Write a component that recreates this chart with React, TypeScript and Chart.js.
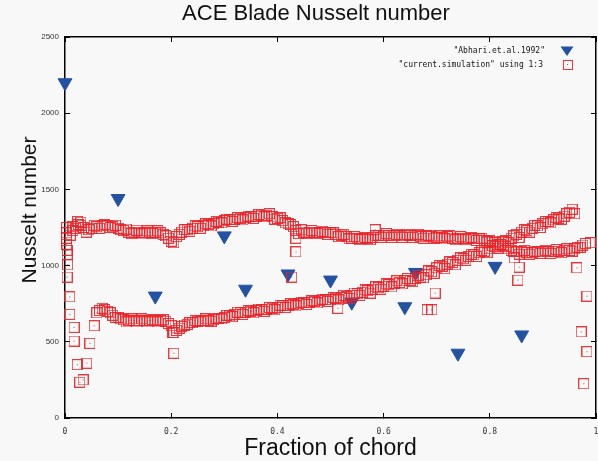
import React, { useEffect, useRef } from 'react';
import { Chart, registerables } from 'chart.js';

Chart.register(...registerables);

const TITLE = 'ACE Blade Nusselt number';
const X_TITLE = 'Fraction of chord';
const Y_TITLE = 'Nusselt number';
const EXP_LABEL = '"Abhari.et.al.1992"';
const SIM_LABEL = '"current.simulation" using 1:3';

const X_MIN = 0;
const X_MAX = 1;
const X_STEP = 0.2;
const Y_MIN = 0;
const Y_MAX = 2500;
const Y_STEP = 500;

// Experimental data (blue triangles)
const abhariChord = [0, 0.1, 0.17, 0.3, 0.34, 0.42, 0.5, 0.54, 0.64, 0.66, 0.74, 0.81, 0.86];
const abhariNu = [2200, 1440, 800, 1195, 845, 945, 905, 760, 730, 955, 425, 995, 545];

// Simulation, upper branch
const suctionChord = [
  0.01, 0.02, 0.03, 0.04, 0.05, 0.06, 0.07, 0.08, 0.09, 0.1,
  0.11, 0.12, 0.13, 0.14, 0.15, 0.16, 0.17, 0.18, 0.19, 0.2,
  0.21, 0.22, 0.23, 0.24, 0.25, 0.26, 0.27, 0.28, 0.29, 0.3,
  0.31, 0.32, 0.33, 0.34, 0.35, 0.36, 0.37, 0.38, 0.39, 0.4,
  0.41, 0.42, 0.43, 0.44, 0.45, 0.46, 0.47, 0.48, 0.49, 0.5,
  0.51, 0.52, 0.53, 0.54, 0.55, 0.56, 0.57, 0.58, 0.59, 0.6,
  0.61, 0.62, 0.63, 0.64, 0.65, 0.66, 0.67, 0.68, 0.69, 0.7,
  0.71, 0.72, 0.73, 0.74, 0.75, 0.76, 0.77, 0.78, 0.79, 0.8,
  0.81, 0.82, 0.83, 0.84, 0.85, 0.86, 0.87, 0.88, 0.89, 0.9,
  0.91, 0.92, 0.93, 0.94, 0.95, 0.96, 0.97, 0.98,
];
const suctionNu = [
  1200, 1245, 1285, 1220, 1245, 1255, 1260, 1260, 1255, 1245,
  1230, 1220, 1220, 1220, 1215, 1220, 1220, 1215, 1195, 1160,
  1190, 1220, 1235, 1245, 1255, 1260, 1270, 1275, 1285, 1295,
  1300, 1305, 1310, 1315, 1320, 1325, 1330, 1330, 1320, 1310,
  1295, 1275, 1255, 1210, 1220, 1220, 1220, 1215, 1220, 1215,
  1205, 1200, 1190, 1180, 1180, 1175, 1180, 1185, 1200, 1195,
  1200, 1195, 1195, 1195, 1200, 1195, 1190, 1195, 1190, 1185,
  1185, 1190, 1180, 1180, 1180, 1180, 1175, 1175, 1165, 1165,
  1150, 1140, 1125, 1100, 1090, 1090, 1085, 1085, 1090, 1090,
  1090, 1095, 1095, 1100, 1100, 1110, 1120, 1145,
];
// Upper branch, in-between stations
const suctionChord2 = [
  0.015, 0.025, 0.035, 0.045, 0.055, 0.065, 0.075, 0.085, 0.095, 0.105,
  0.115, 0.125, 0.135, 0.145, 0.155, 0.165, 0.175, 0.185, 0.195, 0.205,
  0.215, 0.225, 0.235, 0.245, 0.255, 0.265, 0.275, 0.285, 0.295, 0.305,
  0.315, 0.325, 0.335, 0.345, 0.355, 0.365, 0.375, 0.385, 0.395, 0.405,
  0.415, 0.425, 0.435, 0.445, 0.455, 0.465, 0.475, 0.485, 0.495, 0.505,
  0.515, 0.525, 0.535, 0.545, 0.555, 0.565, 0.575, 0.585, 0.595, 0.605,
  0.615, 0.625, 0.635, 0.645, 0.655, 0.665, 0.675, 0.685, 0.695, 0.705,
  0.715, 0.725, 0.735, 0.745, 0.755, 0.765, 0.775, 0.785, 0.795, 0.805,
  0.815, 0.825, 0.835, 0.845, 0.855, 0.865, 0.875, 0.885, 0.895, 0.905,
  0.915, 0.925, 0.935, 0.945, 0.955, 0.965, 0.975,
];
const suctionNu2 = [
  1230, 1270, 1250, 1235, 1265, 1245, 1270, 1250, 1265, 1235,
  1240, 1210, 1232, 1208, 1228, 1210, 1228, 1205, 1180, 1150,
  1205, 1235, 1225, 1260, 1245, 1275, 1260, 1290, 1280, 1305,
  1290, 1315, 1300, 1325, 1310, 1335, 1320, 1340, 1305, 1315,
  1280, 1270, 1230, 1235, 1210, 1230, 1210, 1225, 1205, 1215,
  1190, 1205, 1175, 1190, 1170, 1185, 1170, 1195, 1185, 1210,
  1185, 1205, 1185, 1205, 1185, 1205, 1180, 1200, 1180, 1195,
  1175, 1195, 1170, 1190, 1170, 1185, 1165, 1180, 1155, 1160,
  1140, 1135, 1110, 1095, 1075, 1100, 1075, 1095, 1080, 1100,
  1080, 1105, 1085, 1110, 1095, 1120, 1135,
];

// Simulation, lower branch
const pressureChord = [
  0.06, 0.07, 0.08, 0.09, 0.1,
  0.11, 0.12, 0.13, 0.14, 0.15, 0.16, 0.17, 0.18, 0.19, 0.2,
  0.21, 0.22, 0.23, 0.24, 0.25, 0.26, 0.27, 0.28, 0.29, 0.3,
  0.31, 0.32, 0.33, 0.34, 0.35, 0.36, 0.37, 0.38, 0.39, 0.4,
  0.41, 0.42, 0.43, 0.44, 0.45, 0.46, 0.47, 0.48, 0.49, 0.5,
  0.51, 0.52, 0.53, 0.54, 0.55, 0.56, 0.57, 0.58, 0.59, 0.6,
  0.61, 0.62, 0.63, 0.64, 0.65, 0.66, 0.67, 0.68, 0.69, 0.7,
  0.71, 0.72, 0.73, 0.74, 0.75, 0.76, 0.77, 0.78, 0.79, 0.8,
  0.81, 0.82, 0.83, 0.84, 0.85, 0.86, 0.87, 0.88, 0.89, 0.9,
  0.91, 0.92, 0.93, 0.94, 0.95, 0.96,
];
const pressureNu = [
  690, 720, 700, 675, 660,
  645, 640, 640, 640, 640, 640, 640, 640, 635, 605,
  575, 600, 615, 625, 635, 640, 640, 645, 655, 660,
  670, 680, 690, 695, 700, 705, 710, 715, 720, 725,
  735, 740, 745, 750, 755, 760, 765, 770, 775, 775,
  785, 790, 795, 805, 815, 825, 835, 845, 855, 865,
  875, 885, 890, 900, 905, 915, 925, 940, 960, 985,
  995, 1010, 1020, 1035, 1045, 1060, 1070, 1085, 1095, 1110,
  1125, 1140, 1165, 1180, 1205, 1220, 1230, 1245, 1260, 1275,
  1290, 1300, 1310, 1325, 1350, 1340,
];
// Lower branch, in-between stations
const pressureChord2 = [
  0.065, 0.075, 0.085, 0.095, 0.105, 0.115, 0.125, 0.135, 0.145, 0.155,
  0.165, 0.175, 0.185, 0.195, 0.205, 0.215, 0.225, 0.235, 0.245, 0.255,
  0.265, 0.275, 0.285, 0.295, 0.305, 0.315, 0.325, 0.335, 0.345, 0.355,
  0.365, 0.375, 0.385, 0.395, 0.405, 0.415, 0.425, 0.435, 0.445, 0.455,
  0.465, 0.475, 0.485, 0.495, 0.505, 0.515, 0.525, 0.535, 0.545, 0.555,
  0.565, 0.575, 0.585, 0.595, 0.605, 0.615, 0.625, 0.635, 0.645, 0.655,
  0.665, 0.675, 0.685, 0.695, 0.705, 0.715, 0.725, 0.735, 0.745, 0.755,
  0.765, 0.775, 0.785, 0.795, 0.805, 0.815, 0.825, 0.835, 0.845, 0.855,
  0.865, 0.875, 0.885, 0.895, 0.905, 0.915, 0.925, 0.935, 0.945, 0.955,
];
const pressureNu2 = [
  705, 710, 690, 660, 650, 630, 650, 630, 650, 630,
  645, 630, 645, 620, 560, 590, 610, 625, 640, 630,
  650, 635, 655, 650, 675, 665, 695, 680, 705, 690,
  715, 700, 725, 710, 740, 725, 750, 735, 760, 745,
  770, 755, 780, 765, 790, 775, 805, 785, 820, 805,
  840, 820, 860, 845, 880, 860, 900, 880, 915, 895,
  935, 920, 965, 950, 1000, 980, 1025, 1005, 1050, 1035,
  1075, 1060, 1100, 1085, 1130, 1115, 1155, 1150, 1195, 1185,
  1235, 1220, 1265, 1250, 1290, 1280, 1315, 1305, 1340, 1370,
];

// Simulation, isolated points (leading / trailing edge and elsewhere)
const scatterChord = [
  0.003, 0.003, 0.003, 0.003, 0.004, 0.004, 0.005, 0.004,
  0.009, 0.009, 0.017, 0.017, 0.023, 0.028, 0.034, 0.041, 0.047, 0.055,
  0.015, 0.024, 0.03,
  0.205, 0.203,
  0.427, 0.435, 0.435,
  0.514, 0.584,
  0.682, 0.691, 0.697,
  0.846, 0.853, 0.855,
  0.964, 0.972, 0.977, 0.983, 0.983, 0.989,
];
const scatterNu = [
  1250, 1215, 1180, 1140, 1100, 1070, 1005, 925,
  795, 680, 595, 505, 350, 235, 250, 360, 490, 605,
  1255, 1290, 1265,
  425, 560,
  925, 1180, 1090,
  720, 1235,
  710, 710, 820,
  1050, 905, 990,
  985, 565, 225, 800, 435, 1150,
];

const BLUE = '#2452a3';
const RED = 'rgba(232, 34, 40, 0.9)';
const SANS = '"Liberation Sans", Arial, Helvetica, sans-serif';
const MONO = '"DejaVu Sans Mono", "Liberation Mono", monospace';

function pairs(xs: number[], ys: number[]) {
  return xs.map((x, i) => ({ x, y: ys[i] }));
}

function makeSquare(): HTMLCanvasElement {
  const c = document.createElement('canvas');
  c.width = 11;
  c.height = 11;
  const g = c.getContext('2d')!;
  g.strokeStyle = RED;
  g.lineWidth = 1;
  g.strokeRect(0.5, 0.5, 10, 10);
  g.fillStyle = RED;
  g.fillRect(5, 5, 1, 1);
  return c;
}

const overlayPlugin = {
  id: 'gnuplotOverlay',
  afterDraw(chart: any) {
    const ctx = chart.ctx as CanvasRenderingContext2D;
    const ds = chart.data.datasets;
    ctx.save();
    // Y axis title
    ctx.translate(30, 210);
    ctx.rotate(-Math.PI / 2);
    ctx.font = `21px ${SANS}`;
    ctx.fillStyle = '#111';
    ctx.textAlign = 'center';
    ctx.textBaseline = 'middle';
    ctx.fillText(Y_TITLE, 0, 0);
    ctx.restore();

    // Legend (gnuplot style: text then symbol, top right)
    ctx.save();
    ctx.font = `8px ${MONO}`;
    ctx.fillStyle = '#111';
    ctx.textAlign = 'right';
    ctx.textBaseline = 'middle';
    ctx.fillText(ds[0].label, 545, 51);
    ctx.fillText(ds[1].label, 543, 65);
    ctx.fillStyle = BLUE;
    ctx.beginPath();
    ctx.moveTo(560.5, 46.5);
    ctx.lineTo(573.5, 46.5);
    ctx.lineTo(567, 56);
    ctx.closePath();
    ctx.fill();
    ctx.strokeStyle = RED;
    ctx.lineWidth = 1;
    ctx.strokeRect(563.5, 60.5, 9, 9);
    ctx.fillStyle = RED;
    ctx.fillRect(567, 64, 1, 1);
    ctx.restore();
  },
};

const fmtX = (v: number | string) => {
  const n = Number(v);
  if (Math.abs(n) < 1e-9) return '0';
  if (Math.abs(n - 1) < 1e-9) return '1';
  return n.toFixed(1);
};
const fmtY = (v: number | string) => String(Math.round(Number(v)));

export default function App() {
  const ref = useRef<HTMLCanvasElement>(null);

  useEffect(() => {
    if (!ref.current) return;
    const square = makeSquare();
    const tickGrid = { drawOnChartArea: false, tickLength: -5, color: '#000', tickColor: '#000', tickWidth: 1 };
    const border = { display: true, color: '#000', width: 1.5 };
    const noPadX = (h: number) => (s: any) => { s.height = h; s.paddingLeft = 0; s.paddingRight = 0; };
    const noPadY = (w: number) => (s: any) => { s.width = w; s.paddingTop = 0; s.paddingBottom = 0; };
    const chart = new Chart(ref.current, {
      type: 'scatter',
      data: {
        datasets: [
          {
            label: EXP_LABEL,
            data: pairs(abhariChord, abhariNu),
            pointStyle: 'triangle',
            rotation: 180,
            pointRadius: 8,
            pointHoverRadius: 8,
            backgroundColor: BLUE,
            borderColor: BLUE,
            borderWidth: 1,
            order: 2,
            clip: false,
          } as any,
          {
            label: SIM_LABEL,
            data: [
              ...pairs(suctionChord, suctionNu),
              ...pairs(suctionChord2, suctionNu2),
              ...pairs(pressureChord, pressureNu),
              ...pairs(pressureChord2, pressureNu2),
              ...pairs(scatterChord, scatterNu),
            ],
            pointStyle: square,
            pointRadius: 6,
            pointHoverRadius: 6,
            backgroundColor: 'rgba(0,0,0,0)',
            borderColor: RED,
            order: 1,
            clip: false,
          } as any,
        ],
      },
      options: {
        responsive: false,
        animation: false,
        devicePixelRatio: 1,
        events: [],
        layout: { padding: { left: 36, right: 2, top: 0, bottom: 0 }, autoPadding: false },
        plugins: {
          legend: { display: false },
          tooltip: { enabled: false },
          title: {
            display: true,
            text: TITLE,
            color: '#111',
            font: { family: SANS, size: 22, weight: 'normal', lineHeight: 1 },
            padding: { top: 3, bottom: 12 },
          },
        },
        scales: {
          x: {
            type: 'linear',
            position: 'bottom',
            min: X_MIN,
            max: X_MAX,
            ticks: { stepSize: X_STEP, padding: 14, color: '#333', font: { family: MONO, size: 8 }, callback: fmtX, maxRotation: 0 },
            grid: tickGrid,
            border,
            title: {
              display: true,
              text: X_TITLE,
              color: '#111',
              font: { family: SANS, size: 23, lineHeight: 1 },
              padding: { top: 0, bottom: 1 },
            },
            afterFit: noPadX(43),
          },
          x2: {
            type: 'linear',
            position: 'top',
            min: X_MIN,
            max: X_MAX,
            ticks: { stepSize: X_STEP, display: false },
            grid: tickGrid,
            border,
            afterFit: noPadX(0),
          },
          y: {
            type: 'linear',
            position: 'left',
            min: Y_MIN,
            max: Y_MAX,
            ticks: { stepSize: Y_STEP, padding: 11, color: '#333', font: { family: SANS, size: 8 }, callback: fmtY },
            grid: tickGrid,
            border,
            afterFit: noPadY(29),
          },
          y2: {
            type: 'linear',
            position: 'right',
            min: Y_MIN,
            max: Y_MAX,
            ticks: { stepSize: Y_STEP, display: false },
            grid: tickGrid,
            border,
            afterFit: noPadY(0),
          },
        },
      } as any,
      plugins: [overlayPlugin],
    });
    return () => chart.destroy();
  }, []);

  return (
    <div style={{ position: 'absolute', left: 0, top: 0, width: 598, height: 461, background: '#f8f8f8', overflow: 'hidden' }}>
      <canvas ref={ref} width={598} height={461} style={{ display: 'block', width: 598, height: 461 }} />
    </div>
  );
}
